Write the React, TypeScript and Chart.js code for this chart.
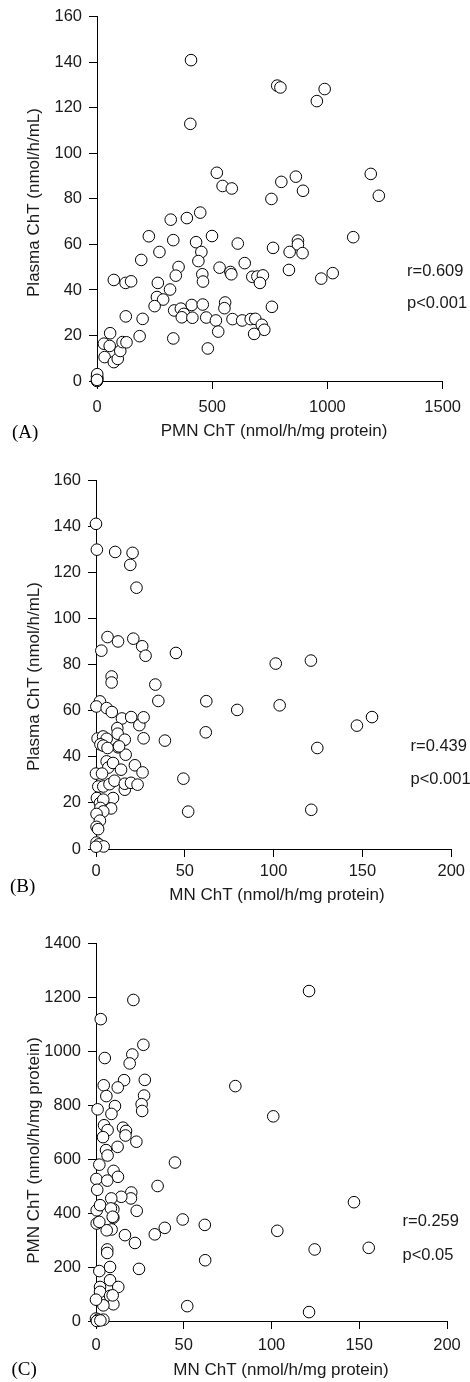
import React, { useEffect, useRef } from "react";
import { Chart, registerables } from "chart.js";
Chart.register(...registerables);

type Pt = [number, number];

// Panel A: PMN ChT (x) vs Plasma ChT (y)
const pmnVsPlasma: Pt[] = [
  [408, 141], [405, 113], [782, 129.8], [796, 129], [954, 123], [988, 128.3],
  [520, 91.5], [545, 85.7], [585, 84.6], [757, 80], [800, 87.5], [863, 89.8],
  [894, 83.6], [1188, 91], [1223, 81.4], [1112, 63.2], [764, 58.5], [836, 56.7],
  [872, 61.7], [872, 60], [892, 56.2], [833, 48.8], [973, 45], [1023, 47.4],
  [611, 60.4], [641, 51.8], [532, 49.8], [579, 47.9], [583, 46.9], [674, 45.8],
  [696, 45.9], [720, 46.4], [707, 43.1], [759, 32.6], [556, 34.5], [553, 32],
  [588, 27.2], [630, 26.6], [667, 27.2], [687, 27.3], [715, 24.7], [726, 22.5],
  [682, 20.7], [499, 63.7], [448, 74], [390, 71.6], [320, 70.9], [331, 61.9],
  [430, 61], [453, 56.7], [440, 52.7], [354, 50.1], [342, 46.3], [457, 46.9],
  [460, 43.7], [317, 40.2], [264, 43.1], [260, 36.9], [287, 35.8], [250, 32.9],
  [335, 31], [364, 31.8], [377, 29.5], [368, 28], [411, 33.4], [414, 27.8],
  [459, 33.6], [474, 27.9], [516, 26.6], [526, 21.7], [481, 14.3], [331, 18.7],
  [225, 63.6], [271, 56.7], [192, 53.2], [198, 27.3], [185, 19.7], [125, 28.4],
  [73, 44.4], [124, 43.1], [148, 43.8], [57, 21], [30, 16.4], [55, 15.4],
  [33, 10.5], [73, 8.3], [90, 9.7], [101, 13.2], [111, 17.1], [128, 17],
  [0, 0], [2, 1], [0, 2], [1, 3], [0, 0.5]
];

// Panel B: MN ChT (x) vs Plasma ChT (y)
const mnVsPlasma: Pt[] = [
  [0, 141], [0.5, 129.8], [10.8, 128.8], [20.6, 128.4], [19.3, 123.2], [22.8, 113.3],
  [6.5, 91.9], [12.4, 90], [21, 91.2], [26, 87.9], [27.9, 83.8], [3, 86], [45, 85],
  [101.2, 80.4], [121, 81.7], [8.8, 74.8], [8.8, 72.2], [33.4, 71.3], [35.1, 64.2],
  [62.1, 64.1], [79.5, 60.3], [103.4, 62.3], [155.4, 57.2], [146.9, 53.5], [61.8, 50.6],
  [124.6, 43.8], [38.8, 47], [49.2, 30.5], [51.9, 16.2], [121.2, 17],
  [2.2, 64], [0.2, 61.8], [6, 61.1], [8.9, 59.4], [14.6, 56.6], [19.8, 57.2],
  [24.4, 53.7], [26.8, 57.1], [26.8, 48], [12, 52.4], [12.2, 50], [12.4, 44.1],
  [16.2, 47.4], [16.7, 40.9], [0.9, 47.9], [4, 48.8], [6, 47.8], [2.5, 45.4],
  [4.1, 44.8], [6.5, 43.8], [13, 44.5], [6, 38], [6.9, 35.3], [9.6, 37.3],
  [14.1, 34.4], [21.9, 36.3], [26.2, 33.2], [0, 32.7], [3.4, 32.7], [1.3, 27.1],
  [4.1, 27.1], [7.6, 28.1], [10.4, 29.6], [16.2, 25.7], [16.2, 28.3], [19.7, 28.7],
  [23.4, 27.9], [9.6, 22.1], [8.5, 17.6], [0.5, 22.1], [2.2, 19.9], [4.1, 21.4],
  [2.5, 17.8], [4.1, 16.3], [0.3, 15.2], [2.2, 12.3], [0.3, 9.6], [1.2, 8.6],
  [0.3, 2.8], [1.6, 2], [4.3, 1.1], [0, 1]
];

// Panel C: MN ChT (x) vs PMN ChT (y)
const mnVsPmn: Pt[] = [
  [121.4, 1222], [21.3, 1189], [2.7, 1118], [27, 1023], [5, 974], [20.7, 987],
  [19.2, 954], [27.8, 893], [16, 892], [12.4, 865], [4.4, 873], [5.9, 833],
  [27.4, 835], [79.4, 870], [101, 758], [0.9, 784], [10.8, 796], [8.8, 767],
  [26, 803], [26.3, 778], [4.6, 725], [6.6, 707], [4, 681], [15.4, 716],
  [17.1, 704], [16.8, 687], [23, 664], [12.3, 645], [5.7, 633], [6.6, 613],
  [1.9, 579], [10, 556], [12.5, 534], [0.2, 526], [6.4, 520], [0.7, 486],
  [45, 587], [35.1, 500], [147, 440], [49.4, 376], [62, 356], [39.2, 345],
  [33.5, 321], [103.3, 334], [124.6, 265], [155.4, 271], [62.2, 225], [24.5, 193],
  [52, 55], [121.4, 33], [20.1, 476], [19.9, 454], [14.4, 460], [23.2, 408],
  [8.7, 454], [9.9, 414], [9.9, 383], [8.9, 339], [16.5, 318], [22.2, 289],
  [0.4, 410], [0.4, 361], [2.3, 429], [6.1, 336], [6.4, 265], [6.4, 252],
  [8.5, 417], [9.5, 386], [1.9, 367], [1.9, 185], [8, 200], [8, 151],
  [12.7, 126], [2.3, 126], [2.3, 108], [8, 93], [9.9, 62], [4.2, 58],
  [0, 79], [9.5, 95], [0, 9], [1.3, 5], [4.2, 5], [0.5, 0], [2.5, 2]
];

const panelLabels = ["(A)", "(B)", "(C)"];
const rValues = ["r=0.609", "r=0.439", "r=0.259"];
const pValues = ["p<0.001", "p<0.001", "p<0.05"];
const xTitles = [
  "PMN ChT (nmol/h/mg protein)",
  "MN ChT (nmol/h/mg protein)",
  "MN ChT (nmol/h/mg protein)"
];
const yTitles = [
  "Plasma ChT (nmol/h/mL)",
  "Plasma ChT (nmol/h/mL)",
  "PMN ChT (nmol/h/mg protein)"
];
const xRanges = [
  { max: 1500, step: 500 },
  { max: 200, step: 50 },
  { max: 200, step: 50 }
];
const yRanges = [
  { max: 160, step: 20 },
  { max: 160, step: 20 },
  { max: 1400, step: 200 }
];
const datasets = [pmnVsPlasma, mnVsPlasma, mnVsPmn];

// layout (page coordinates)
const layouts = [
  { top: 0, height: 450, left: 97, right: 445, aTop: 14, aBottom: 381, tickPad: 9,
    yTitle: [34, 202.5], xTitle: [274, 431], label: [12, 433], r: [407, 271.7], p: [407, 303.3] },
  { top: 460, height: 450, left: 96, right: 455, aTop: 480, aBottom: 849, tickPad: 5,
    yTitle: [34, 676.5], xTitle: [277, 895], label: [10, 887], r: [410.5, 746], p: [410.5, 779.3] },
  { top: 920, height: 462, left: 96, right: 447, aTop: 943, aBottom: 1321, tickPad: 7,
    yTitle: [34, 1150.5], xTitle: [281, 1370], label: [11.5, 1370], r: [402.5, 1221.7], p: [402.5, 1255] }
];

const SANS = "'Liberation Sans', Arial, Helvetica, sans-serif";
const SERIF = "'Liberation Serif', 'Times New Roman', serif";

function Panel({ idx }: { idx: number }) {
  const ref = useRef<HTMLCanvasElement | null>(null);
  const L = layouts[idx];
  useEffect(() => {
    if (!ref.current) return;
    const off = L.top;
    const textPlugin = {
      id: "texts" + idx,
      afterDraw(chart: any) {
        const ctx = chart.ctx as CanvasRenderingContext2D;
        ctx.save();
        ctx.fillStyle = "#1a1a1a";
        ctx.textBaseline = "middle";
        ctx.font = `17px ${SANS}`;
        ctx.textAlign = "center";
        ctx.fillText(xTitles[idx], L.xTitle[0], L.xTitle[1] - off);
        ctx.save();
        ctx.translate(L.yTitle[0], L.yTitle[1] - off);
        ctx.rotate(-Math.PI / 2);
        ctx.fillText(yTitles[idx], 0, 0);
        ctx.restore();
        ctx.textAlign = "left";
        ctx.font = `16.5px ${SANS}`;
        ctx.fillText(rValues[idx], L.r[0], L.r[1] - off);
        ctx.fillText(pValues[idx], L.p[0], L.p[1] - off);
        ctx.font = `19px ${SERIF}`;
        ctx.fillStyle = "#000";
        ctx.fillText(panelLabels[idx], L.label[0], L.label[1] - off);
        ctx.restore();
      }
    };
    const axisCommon = {
      type: "linear" as const,
      min: 0,
      grid: {
        display: true,
        drawOnChartArea: false,
        drawTicks: true,
        tickLength: 8,
        color: "#000",
        lineWidth: 1
      },
      border: { display: true, color: "#000", width: 1 }
    };
    const plain = (v: any) => String(v);
    const chart = new Chart(ref.current, {
      type: "scatter",
      data: {
        datasets: [
          {
            data: datasets[idx].map(([x, y]) => ({ x, y })),
            pointStyle: "circle",
            pointRadius: 5.8,
            pointBorderWidth: 1,
            pointBorderColor: "#000",
            pointBackgroundColor: "#fff",
            clip: false as any
          }
        ]
      },
      options: {
        animation: false,
        responsive: false,
        devicePixelRatio: 1,
        events: [],
        layout: {
          padding: { top: L.aTop - L.top, right: 470 - L.right, left: 0, bottom: 0 }
        },
        plugins: { legend: { display: false }, tooltip: { enabled: false } },
        scales: {
          x: {
            ...axisCommon,
            position: "bottom",
            max: xRanges[idx].max,
            ticks: {
              stepSize: xRanges[idx].step,
              padding: L.tickPad,
              color: "#1a1a1a",
              font: { family: SANS, size: 16.5 },
              maxRotation: 0,
              callback: plain
            },
            afterFit: (s: any) => {
              s.height = L.top + L.height - L.aBottom;
            }
          },
          y: {
            ...axisCommon,
            position: "left",
            max: yRanges[idx].max,
            ticks: {
              stepSize: yRanges[idx].step,
              padding: 7,
              color: "#1a1a1a",
              font: { family: SANS, size: 16.5 },
              callback: plain
            },
            afterFit: (s: any) => {
              s.width = L.left;
            }
          }
        }
      } as any,
      plugins: [textPlugin]
    });
    return () => chart.destroy();
  }, [idx]);
  return (
    <canvas
      ref={ref}
      width={470}
      height={L.height}
      style={{ position: "absolute", left: 0, top: L.top, width: 470, height: L.height }}
    />
  );
}

export default function App() {
  return (
    <div
      style={{
        position: "absolute",
        left: 0,
        top: 0,
        width: 470,
        height: 1382,
        background: "#fff"
      }}
    >
      <Panel idx={0} />
      <Panel idx={1} />
      <Panel idx={2} />
    </div>
  );
}
